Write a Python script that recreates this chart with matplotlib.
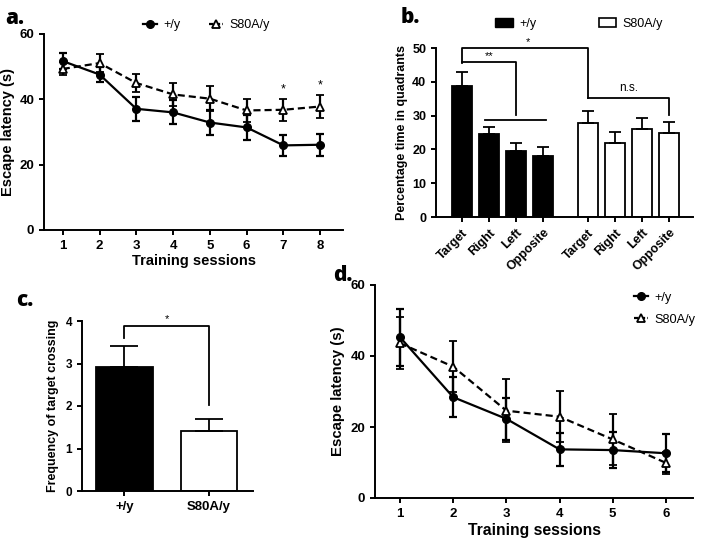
import numpy as np
import matplotlib
matplotlib.use("Agg")
import matplotlib.pyplot as plt
from matplotlib.patches import Patch
from matplotlib.lines import Line2D

plt.rcParams['font.family'] = ['Liberation Sans', 'DejaVu Sans']
plt.rcParams['axes.linewidth'] = 1.4
plt.rcParams['xtick.major.width'] = 1.4
plt.rcParams['ytick.major.width'] = 1.4
plt.rcParams['xtick.major.size'] = 3.5
plt.rcParams['ytick.major.size'] = 3.5

# a. escape latency, 8 sessions
sessions_a = [1, 2, 3, 4, 5, 6, 7, 8]
wt_a = [51.7, 47.6, 37.1, 36.0, 32.9, 31.4, 25.9, 26.1]
wt_a_err = [2.4, 2.2, 3.6, 3.7, 3.9, 3.8, 3.2, 3.3]
mut_a = [49.3, 51.1, 45.0, 41.5, 40.2, 36.6, 36.8, 37.8]
mut_a_err = [2.0, 2.8, 2.8, 3.6, 3.8, 3.6, 3.3, 3.6]
sig_sessions_a = [7, 8]

# b. time in quadrants
quadrants = ['Target', 'Right', 'Left', 'Opposite']
wt_b = [38.8, 24.5, 19.6, 18.0]
wt_b_err = [4.0, 2.0, 2.4, 2.6]
mut_b = [27.9, 22.0, 25.9, 24.8]
mut_b_err = [3.5, 3.1, 3.5, 3.4]

# c. target crossings
groups_c = ['+/y', 'S80A/y']
cross_c = [2.92, 1.41]
cross_c_err = [0.50, 0.28]

# d. escape latency, 6 sessions
sessions_d = [1, 2, 3, 4, 5, 6]
wt_d = [45.3, 28.4, 22.3, 13.7, 13.5, 12.6]
wt_d_err = [8.0, 5.7, 6.0, 4.6, 5.0, 5.4]
mut_d = [43.6, 37.0, 24.6, 22.9, 16.5, 9.9]
mut_d_err = [7.4, 7.2, 8.9, 7.2, 7.2, 3.0]

W, H = 701, 548
fig = plt.figure(figsize=(W / 100, H / 100), dpi=100)


def box(l, t, r, b):
    return [l / W, 1 - b / H, (r - l) / W, (b - t) / H]


def style(ax, size=9.5):
    for s in ['top', 'right']:
        ax.spines[s].set_visible(False)
    ax.tick_params(direction='out', labelsize=size)
    for lab in ax.get_xticklabels() + ax.get_yticklabels():
        lab.set_fontweight('bold')


def latency(ax, x, wt, wte, mut, mute):
    ax.errorbar(x, mut, yerr=mute, color='black', lw=1.6, ls=(0, (3.2, 1.8)),
                marker='^', ms=6, mfc='white', mec='black', mew=1.3,
                capsize=3, elinewidth=1.6, capthick=1.6, label='S80A/y')
    ax.errorbar(x, wt, yerr=wte, color='black', lw=1.6, marker='o', ms=5.5,
                capsize=3, elinewidth=1.6, capthick=1.6, label='+/y')


# ---- a ----
ax = fig.add_axes(box(44, 34, 343, 230))
latency(ax, sessions_a, wt_a, wt_a_err, mut_a, mut_a_err)
ax.set_xlim(0.49, 8.62)
ax.set_ylim(0, 60)
ax.set_xticks(sessions_a)
ax.set_yticks([0, 20, 40, 60])
ax.set_xlabel('Training sessions', fontsize=10.5, fontweight='bold', labelpad=2)
ax.set_ylabel('Escape latency (s)', fontsize=10.5, fontweight='bold', labelpad=3)
style(ax)
for s in sig_sessions_a:
    i = sessions_a.index(s)
    ax.text(s, mut_a[i] + mut_a_err[i] + 1.0, '*', ha='center', va='bottom', fontsize=9)
h = [Line2D([], [], color='black', lw=1.6, marker='o', ms=5.5),
     Line2D([], [], color='black', lw=1.6, ls=(0, (2, 1)), marker='^', ms=6, mfc='white', mew=1.3)]
ax.legend(h, ['+/y', 'S80A/y'], ncol=2, frameon=False, fontsize=9, handlelength=1.1,
          handletextpad=0.5, columnspacing=2.3, loc='center left',
          bbox_to_anchor=(132 / W, 1 - 25 / H), bbox_transform=fig.transFigure)

# ---- b ----
ax = fig.add_axes(box(436, 48, 693, 217))
pw = np.arange(len(quadrants))
pm = pw + 4.67
ax.bar(pw, wt_b, width=0.75, color='black', edgecolor='black', lw=1.3,
       yerr=[np.zeros(4), wt_b_err], error_kw=dict(capsize=4, elinewidth=1.3, capthick=1.3))
ax.bar(pm, mut_b, width=0.75, color='white', edgecolor='black', lw=1.3,
       yerr=[np.zeros(4), mut_b_err], error_kw=dict(capsize=4, elinewidth=1.3, capthick=1.3))
ax.set_xlim(-0.96, 8.56)
ax.set_ylim(0, 50)
ax.set_yticks([0, 10, 20, 30, 40, 50])
ax.set_xticks(np.concatenate([pw, pm]))
ax.set_xticklabels(quadrants + quadrants, rotation=45, ha='right', rotation_mode='anchor')
ax.set_ylabel('Percentage time in quadrants', fontsize=9, fontweight='bold', labelpad=3)
style(ax, 9)
kw = dict(color='black', lw=1.3, clip_on=False)
ax.plot([pw[0], pw[0], pm[0], pm[0]], [45.6, 50, 50, 35.1], **kw)
ax.plot([pw[0], pw[2], pw[2]], [45.8, 45.8, 30.2], **kw)
ax.plot([pw[1] - 0.15, pw[3] + 0.1], [28.7, 28.7], **kw)
ax.plot([pm[0], pm[3], pm[3]], [35.1, 35.1, 30.2], **kw)
ax.text((pw[0] + pm[0]) / 2 + 0.1, 50.3, '*', ha='center', va='bottom', fontsize=8)
ax.text(pw[1], 46.1, '**', ha='center', va='bottom', fontsize=8)
ax.text((pm[1] + pm[2]) / 2, 36.5, 'n.s.', ha='center', va='bottom', fontsize=8.5)
hb = [Patch(facecolor='black', edgecolor='black'), Patch(facecolor='white', edgecolor='black', lw=1.2)]
ax.legend(hb, ['+/y', 'S80A/y'], ncol=2, frameon=False, fontsize=9, handlelength=1.4,
          handleheight=0.7, handletextpad=0.5, columnspacing=5.0, loc='center left',
          bbox_to_anchor=(484 / W, 1 - 24 / H), bbox_transform=fig.transFigure)

# ---- c ----
ax = fig.add_axes(box(82, 321, 253, 491))
pc = np.arange(len(groups_c))
ax.bar(pc, cross_c, width=0.67, color=['black', 'white'], edgecolor='black', lw=1.3,
       yerr=[np.zeros(2), cross_c_err], error_kw=dict(capsize=10, elinewidth=1.3, capthick=1.3))
ax.set_xlim(-0.5, 1.52)
ax.set_ylim(0, 4)
ax.set_yticks([0, 1, 2, 3, 4])
ax.set_xticks(pc)
ax.set_xticklabels(groups_c)
ax.set_ylabel('Frequency of target crossing', fontsize=9, fontweight='semibold', labelpad=5)
style(ax, 8.5)
ax.tick_params(axis='x', labelsize=9.5)
ax.plot([pc[0], pc[0], pc[1], pc[1]], [3.6, 3.89, 3.89, 2.02], **kw)
ax.text(0.5, 3.93, '*', ha='center', va='bottom', fontsize=8)

# ---- d ----
ax = fig.add_axes(box(375, 285, 693, 498))
latency(ax, sessions_d, wt_d, wt_d_err, mut_d, mut_d_err)
ax.set_xlim(0.53, 6.51)
ax.set_ylim(0, 60)
ax.set_xticks(sessions_d)
ax.set_yticks([0, 20, 40, 60])
ax.set_xlabel('Training sessions', fontsize=11.3, fontweight='bold', labelpad=2)
ax.set_ylabel('Escape latency (s)', fontsize=10.7, fontweight='bold', labelpad=4)
style(ax)
ax.legend(h, ['+/y', 'S80A/y'], frameon=False, fontsize=9.2, handlelength=1.1,
          handletextpad=0.5, labelspacing=0.8, loc='upper left',
          bbox_to_anchor=(622 / W, 1 - 280 / H), bbox_transform=fig.transFigure)

# panel letters
for lab, x, y in [('a.', 5, 24), ('b.', 401, 23), ('c.', 16, 306), ('d.', 333, 281)]:
    fig.text(x / W, 1 - y / H, lab, fontsize=15, fontweight='heavy', family='Open Sans')

fig.savefig('out.png', dpi=100)
